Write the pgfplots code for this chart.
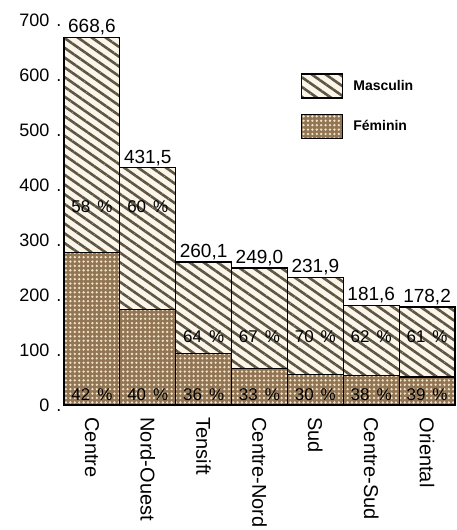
\documentclass[border=0pt]{standalone}
\usepackage{fontspec}
\setmainfont{Liberation Sans}
\usepackage{pgfplots}
\pgfplotsset{compat=1.18}
\usetikzlibrary{patterns.meta}
\definecolor{cream}{RGB}{250,246,235}
\definecolor{stripe}{RGB}{95,85,65}
\definecolor{fembrown}{RGB}{145,117,84}
\definecolor{dotcol}{RGB}{242,228,200}

\pgfplotsset{
  masc legend/.style={legend image code/.code={
    \fill[cream] (0pt,-12pt) rectangle (41pt,12pt);
    \draw[##1] (0pt,-12pt) rectangle (41pt,12pt);}},
  fem legend/.style={legend image code/.code={
    \fill[fembrown] (0pt,-12pt) rectangle (41pt,12pt);
    \draw[##1] (0pt,-12pt) rectangle (41pt,12pt);}},
}

% totals (masculin + feminin) and feminin part
\pgfplotstableread{
x tot lab
0 668.6 668,6
1 431.5 431,5
2 260.1 260,1
3 249.0 249,0
4 231.9 231,9
5 181.6 181,6
6 178.2 178,2
}\totals
\pgfplotstableread{
x fem
0 277
1 174
2 94
3 67
4 55
5 53
6 51
}\feminin
\pgfplotstableread{
x y lab
0 360 58
1 360 60
2 124 64
3 124 67
4 124 70
5 124 62
6 124 61
}\pctmasc
\pgfplotstableread{
x y lab
0 18 42
1 18 40
2 18 36
3 18 33
4 18 30
5 18 38
6 18 39
}\pctfem

\begin{document}
\begin{tikzpicture}
\begin{axis}[
  scale only axis, width=391pt, height=385pt,
  xmin=-0.5, xmax=6.5, ymin=0, ymax=700,
  xtick={0,...,6},
  xticklabels={Centre,Nord-Ouest,Tensift,Centre-Nord,Sud,Centre-Sud,Oriental},
  xticklabel style={yshift=-9pt, rotate=-90, anchor=west, font=\fontsize{20}{22}\selectfont},
  ytick={0,100,...,700},
  yticklabel={\pgfmathprintnumber{\tick}\hspace{7pt}.},
  yticklabel style={xshift=1pt, font=\fontsize{18}{20}\selectfont},
  /pgf/number format/assume math mode=true,
  axis line style={draw=none}, tick style={draw=none},
  clip=false,
  legend style={at={(0.606,0.862)}, anchor=north west, draw=none, fill=none,
    font=\bfseries\fontsize{14}{16}\selectfont, row sep=15pt, column sep=8pt, inner sep=0pt},
  legend cell align=left,
]
% masculin: cream ground, then hatching and outline
\addplot[ybar, bar width=1, bar shift=0pt, fill=cream, draw=none, forget plot]
  table[x=x, y=tot] {\totals};
\addplot[ybar, bar width=1, bar shift=0pt, draw=black, line width=1.2pt,
  pattern={Lines[angle=-35,distance=8pt,line width=2.6pt]}, pattern color=stripe,
  masc legend,
  nodes near coords, point meta=explicit symbolic,
  every node near coord/.append style={font=\fontsize{19}{21}\selectfont, inner sep=1.5pt}]
  table[x=x, y=tot, meta=lab] {\totals};
\addlegendentry{Masculin}
% feminin: brown ground, then dots and outline
\addplot[ybar, bar width=1, bar shift=0pt, fill=fembrown, draw=none, forget plot]
  table[x=x, y=fem] {\feminin};
\addplot[ybar, bar width=1, bar shift=0pt, draw=black, line width=1.2pt,
  pattern={Dots[distance=4.4pt,radius=1.3pt]}, pattern color=dotcol,
  fem legend]
  table[x=x, y=fem] {\feminin};
\addlegendentry{Féminin}
% percentages
\addplot[draw=none, mark=none, forget plot, point meta=explicit symbolic,
  nodes near coords={\pgfplotspointmeta\hspace{7pt}\%}, nodes near coords align={center},
  every node near coord/.append style={font=\fontsize{17}{19}\selectfont}]
  table[x=x, y=y, meta=lab] {\pctmasc};
\addplot[draw=none, mark=none, forget plot, point meta=explicit symbolic,
  nodes near coords={\pgfplotspointmeta\hspace{7pt}\%}, nodes near coords align={center},
  every node near coord/.append style={font=\fontsize{17}{19}\selectfont}]
  table[x=x, y=y, meta=lab] {\pctfem};
\end{axis}
\pgfresetboundingbox
\path (-64pt,-125pt) rectangle (392pt,405pt);
\end{tikzpicture}
\end{document}
